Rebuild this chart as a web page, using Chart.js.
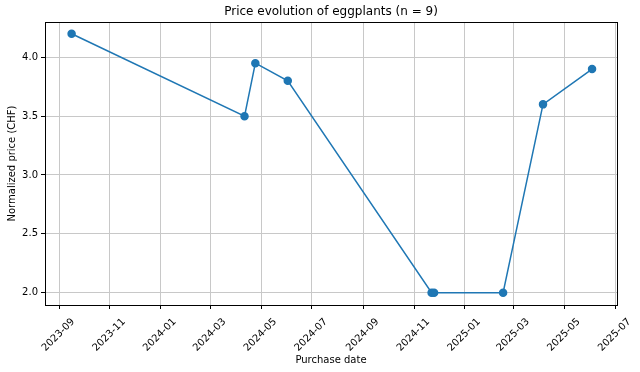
<!DOCTYPE html>
<html>
<head>
<meta charset="utf-8">
<title>Price evolution of eggplants</title>
<script src="https://cdn.jsdelivr.net/npm/chart.js@4.4.1/dist/chart.umd.min.js"></script>
<style>
    html, body { margin: 0; padding: 0; background: #fff; }
    #wrap { width: 640px; height: 372px; }
</style>
</head>
<body>
<div id="wrap"><canvas id="priceChart"></canvas></div>
<script>
// Data
const purchaseDates = ['2023-09-16', '2024-04-11', '2024-04-24', '2024-06-02', '2024-11-22', '2024-11-25', '2025-02-16', '2025-04-05', '2025-06-03'];
const prices = [4.2, 3.5, 3.95, 3.8, 2.0, 2.0, 2.0, 3.6, 3.9];

const xTickLabels = ['2023-09', '2023-11', '2024-01', '2024-03', '2024-05', '2024-07', '2024-09', '2024-11', '2025-01', '2025-03', '2025-05', '2025-07'];
const yTickValues = [2.0, 2.5, 3.0, 3.5, 4.0];

const xRange = ['2023-08-15', '2025-07-03'];
const yRange = [1.895, 4.30];

const chartTitle = 'Price evolution of eggplants (n = 9)';

// Convert 'YYYY-MM-DD' (or 'YYYY-MM') to a day number
function toDay(str) {
    const parts = str.split('-').map(Number);
    return Date.UTC(parts[0], parts[1] - 1, parts[2] || 1) / 86400000;
}

const points = purchaseDates.map((d, i) => ({ x: toDay(d), y: prices[i] }));
const xTickDays = xTickLabels.map(toDay);

// Full box around the plot plus a title centred over the axes (matplotlib style)
const frame = {
    id: 'frame',
    afterDraw(chart) {
        const a = chart.chartArea;
        const ctx = chart.ctx;
        ctx.save();
        ctx.strokeStyle = '#000';
        ctx.lineWidth = 1;
        ctx.strokeRect(Math.round(a.left) + 0.5, Math.round(a.top) + 0.5,
            Math.round(a.right - a.left), Math.round(a.bottom - a.top));
        ctx.fillStyle = '#000';
        ctx.font = '12px "DejaVu Sans", sans-serif';
        ctx.textAlign = 'center';
        ctx.textBaseline = 'middle';
        ctx.fillText(chartTitle, (a.left + a.right) / 2, 12);
        ctx.restore();
    }
};

Chart.defaults.font.family = '"DejaVu Sans", sans-serif';
Chart.defaults.color = '#000';

new Chart(document.getElementById('priceChart'), {
    type: 'line',
    data: {
        datasets: [{
            data: points,
            borderColor: '#1f77b4',
            backgroundColor: '#1f77b4',
            borderWidth: 1.5,
            pointRadius: 3.5,
            pointHoverRadius: 3.5,
            tension: 0,
            fill: false
        }]
    },
    options: {
        responsive: true,
        maintainAspectRatio: false,
        animation: false,
        devicePixelRatio: 1,
        layout: { padding: { left: 0, right: 23, top: 22, bottom: 4 } },
        plugins: {
            legend: { display: false },
            tooltip: { enabled: false },
            title: { display: false }
        },
        scales: {
            x: {
                type: 'linear',
                min: toDay(xRange[0]),
                max: toDay(xRange[1]),
                afterBuildTicks: function (scale) {
                    scale.ticks = xTickDays.map(v => ({ value: v }));
                },
                afterFit: function (scale) {
                    scale.height = 63;
                },
                border: { display: false },
                grid: { color: '#c8c8c8', lineWidth: 1, tickColor: '#000', tickLength: 4 },
                ticks: {
                    minRotation: 45,
                    maxRotation: 45,
                    autoSkip: false,
                    padding: 7,
                    labelOffset: 14,
                    font: { size: 10 },
                    callback: function (value) {
                        const i = xTickDays.indexOf(value);
                        return i >= 0 ? xTickLabels[i] : '';
                    }
                },
                title: {
                    display: true,
                    text: 'Purchase date',
                    font: { size: 10 },
                    padding: { top: 0, bottom: 2 }
                }
            },
            y: {
                min: yRange[0],
                max: yRange[1],
                afterBuildTicks: function (scale) {
                    scale.ticks = yTickValues.map(v => ({ value: v }));
                },
                afterFit: function (scale) {
                    scale.width = 45;
                },
                border: { display: false },
                grid: { color: '#c8c8c8', lineWidth: 1, tickColor: '#000', tickLength: 4 },
                ticks: {
                    padding: 3,
                    font: { size: 10 },
                    callback: function (value) {
                        return value.toFixed(1);
                    }
                },
                title: {
                    display: true,
                    text: 'Normalized price (CHF)',
                    font: { size: 10 },
                    padding: { top: 6, bottom: 0 }
                }
            }
        }
    },
    plugins: [frame]
});
</script>
</body>
</html>
